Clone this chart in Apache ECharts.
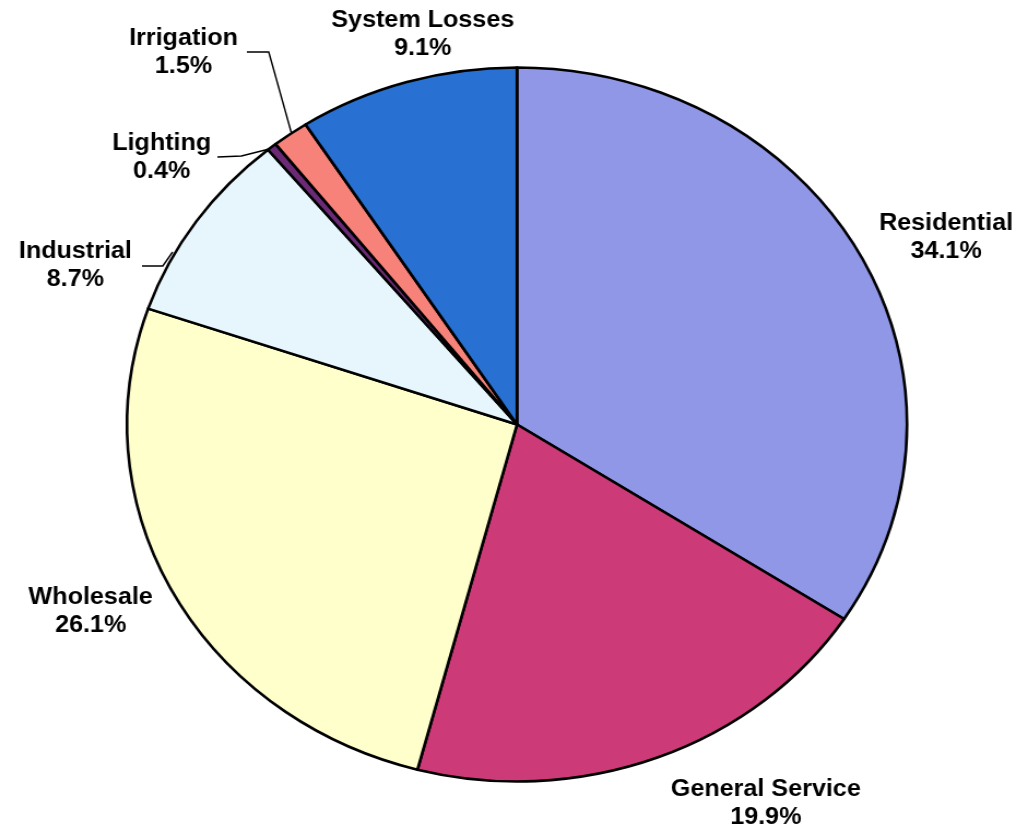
<!DOCTYPE html>
<html>
<head>
<meta charset="utf-8">
<script src="https://cdn.jsdelivr.net/npm/echarts@6/dist/echarts.min.js"></script>
<style>
  html, body { margin: 0; padding: 0; background: #fff; overflow: hidden; }
  #wrap { width: 941px; height: 832px; transform: scaleX(1.09245); transform-origin: 0 0; }
</style>
</head>
<body>
<div id="wrap"></div>
<script>
// ---- data ----
const categories = ['Residential', 'General Service', 'Wholesale', 'Industrial', 'Lighting', 'Irrigation', 'System Losses'];
const shares = [34.1, 19.9, 26.1, 8.7, 0.4, 1.5, 9.1];

// ---- styling / layout (not data) ----
const sliceColors = ['#8f97e6', '#cc3a78', '#ffffcc', '#e6f6fc', '#6b2a75', '#f6827a', '#2871d2'];
const showLeader = [false, false, false, true, true, true, false];
const labelPos = [
  [866, 238], [701, 804], [83, 612], [69, 266], [148, 158], [168, 53], [387, 35]
];
const leaderPts = {
  3: [[158, 252], [149, 266], [130, 266]],
  4: [[250, 148], [221, 156], [199, 157]],
  5: [[267, 134], [246, 52], [226, 52]]
};

const chart = echarts.init(document.getElementById('wrap'), null, { renderer: 'canvas' });
chart.setOption({
  backgroundColor: '#ffffff',
  animation: false,
  series: [{
    type: 'pie',
    center: [473.25, 424.5],
    radius: 357,
    startAngle: 90,
    clockwise: true,
    avoidLabelOverlap: false,
    itemStyle: { borderColor: '#000000', borderWidth: 2.6 },
    label: {
      show: true,
      position: 'outside',
      color: '#000000',
      fontFamily: '"Liberation Sans", Arial, sans-serif',
      fontWeight: 'bold',
      fontSize: 23,
      lineHeight: 28,
      align: 'center',
      formatter: p => p.name + '\n' + p.value.toFixed(1) + '%'
    },
    labelLine: { lineStyle: { color: '#000000', width: 1.4 } },
    emphasis: { disabled: true },
    data: categories.map((c, i) => ({
      name: c,
      value: shares[i],
      itemStyle: { color: sliceColors[i] },
      labelLine: { show: showLeader[i] }
    })),
    labelLayout: function (params) {
      const i = params.dataIndex;
      const out = { x: labelPos[i][0], y: labelPos[i][1], align: 'center', verticalAlign: 'middle', hideOverlap: false };
      if (leaderPts[i]) out.labelLinePoints = leaderPts[i];
      return out;
    }
  }]
});
</script>
</body>
</html>
